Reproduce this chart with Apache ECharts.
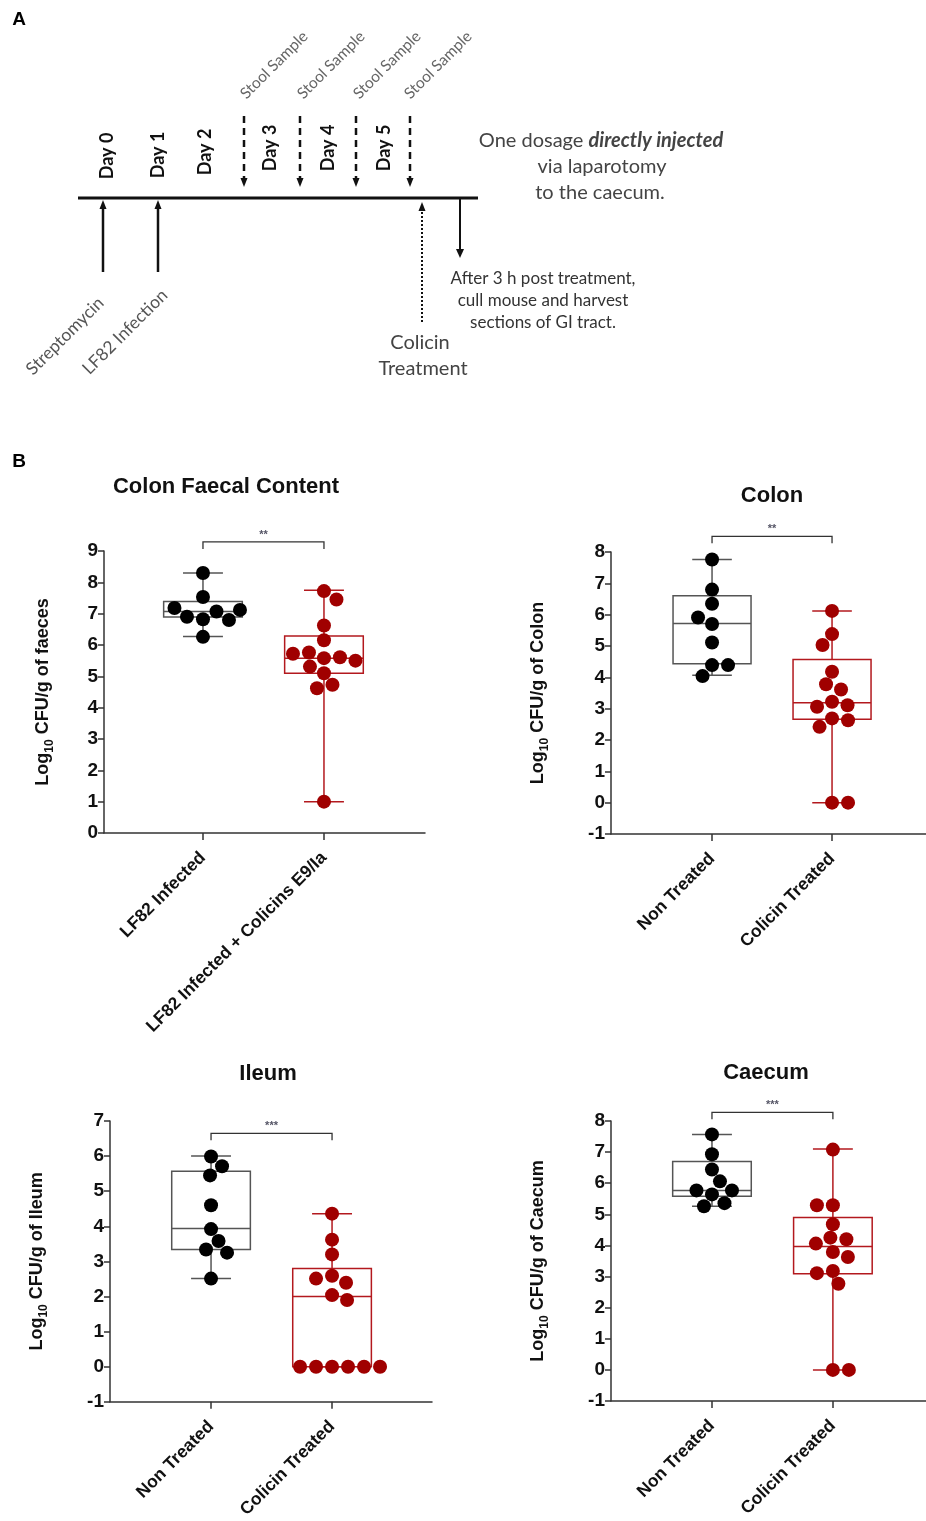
<!DOCTYPE html>
<html><head><meta charset="utf-8">
<script src="https://cdn.jsdelivr.net/npm/echarts@6/dist/echarts.min.js"></script>
<style>html,body{margin:0;padding:0;background:#fff}#c{width:926px;height:1521px}</style>
</head><body><div id="c"></div>
<script>
// ---------------- data ----------------
const panelTitles = ['Colon Faecal Content', 'Colon', 'Ileum', 'Caecum'];
const yAxisOrgans = ['faeces', 'Colon', 'Ileum', 'Caecum'];
const catsFaeces = ['LF82 Infected', 'LF82 Infected + Colicins E9/Ia'];
const catsTreat = ['Non Treated', 'Colicin Treated'];
const significance = ['**', '**', '***', '***'];
const bracketLevels = [9.29, 8.5, 6.65, 8.28];
const yMins = [0, -1, -1, -1];
const yMaxs = [9, 8, 7, 8];

// individual mice (log10 CFU/g)
const faecesInfected = [8.3, 7.53, 6.26, 6.82, 6.9, 7.07, 6.8, 7.18, 7.12];
const faecesColicin  = [7.72, 7.45, 6.62, 6.15, 5.58, 5.61, 5.76, 5.72, 5.5, 5.1, 5.31, 4.73, 4.62, 1.0];
const colonNon       = [7.76, 6.8, 6.35, 5.7, 5.91, 5.11, 4.39, 4.39, 4.04];
const colonColicin   = [6.12, 5.38, 5.03, 4.18, 3.78, 3.61, 3.22, 3.11, 3.06, 2.69, 2.63, 2.42, 0, 0];
const ileumNon       = [5.99, 5.71, 5.45, 4.6, 3.92, 3.58, 3.34, 3.25, 2.51];
const ileumColicin   = [4.36, 3.62, 3.2, 2.59, 2.51, 2.39, 2.04, 1.9, 0, 0, 0, 0, 0, 0];
const caecumNon      = [7.57, 6.93, 6.44, 6.06, 5.64, 5.77, 5.77, 5.36, 5.26];
const caecumColicin  = [7.08, 5.29, 5.29, 4.68, 4.25, 4.2, 4.06, 3.79, 3.63, 3.18, 3.11, 2.77, 0, 0];

// box statistics [min, Q1, median, Q3, max]
const boxFaecesInfected = [6.27, 6.89, 7.07, 7.39, 8.3];
const boxFaecesColicin  = [1.0, 5.1, 5.58, 6.29, 7.75];
const boxColonNon       = [4.07, 4.43, 5.72, 6.6, 7.76];
const boxColonColicin   = [0, 2.66, 3.19, 4.57, 6.12];
const boxIleumNon       = [2.51, 3.34, 3.94, 5.57, 6.0];
const boxIleumColicin   = [0, 0, 2.0, 2.8, 4.36];
const boxCaecumNon      = [5.26, 5.58, 5.77, 6.7, 7.57];
const boxCaecumColicin  = [0, 3.09, 3.97, 4.9, 7.1];

// ---------------- layout ----------------
const FONT = '"Liberation Sans", Arial, sans-serif';
const DFONT = 'Lato, "Open Sans", sans-serif';
const BLACK = '#000000', RED = '#a00000';
const BOX_BLACK = '#555555', BOX_RED = '#b3191e';
const DOT = 14, BOX_W = 0.65, CAP_W = 0.33;
const SWARM_DX = 16, SWARM_DY = 13.5;

const panels = [
  {left: 104, top: 551, width: 321, height: 282, xmin: -0.818, xmax: 1.835, cats: catsFaeces,
   groups: [faecesInfected, faecesColicin], boxes: [boxFaecesInfected, boxFaecesColicin], nameGap: 48},
  {left: 611, top: 552, width: 315, height: 282, xmin: -0.842, xmax: 1.783, cats: catsTreat,
   groups: [colonNon, colonColicin], boxes: [boxColonNon, boxColonColicin], nameGap: 60},
  {left: 110, top: 1121, width: 322, height: 281, xmin: -0.835, xmax: 1.826, cats: catsTreat,
   groups: [ileumNon, ileumColicin], boxes: [boxIleumNon, boxIleumColicin], nameGap: 60},
  {left: 611, top: 1121, width: 315, height: 280, xmin: -0.835, xmax: 1.77, cats: catsTreat,
   groups: [caecumNon, caecumColicin], boxes: [boxCaecumNon, boxCaecumColicin], nameGap: 60}
];

// beeswarm: horizontal offsets (in x data units) so dots don't overlap
function swarm(values, pxPerX, pxPerY) {
  const placed = [];
  const out = [];
  values.forEach((v, i) => {
    const y = v * pxPerY;
    let off = 0;
    const free = c => placed.every(p => ((p.x - c) / SWARM_DX) ** 2 + ((p.y - y) / SWARM_DY) ** 2 >= 1);
    for (let m = 0; m < 200; m += 0.5) {
      const cands = m === 0 ? [0] : (i % 2 ? [m, -m] : [-m, m]);
      const f = cands.find(free);
      if (f !== undefined) { off = f; break; }
    }
    placed.push({x: off, y: y});
    out.push(off / pxPerX);
  });
  return out;
}

const grid = [], xAxis = [], yAxis = [], series = [];
panels.forEach((p, k) => {
  grid.push({left: p.left, top: p.top, width: p.width, height: p.height, containLabel: false});
  xAxis.push({
    type: 'value', gridIndex: k, min: p.xmin, max: p.xmax,
    axisLine: {show: true, onZero: false, lineStyle: {color: '#333', width: 1.5}},
    axisTick: {show: true, customValues: [0, 1], length: 7, lineStyle: {color: '#333', width: 1.5}},
    axisLabel: {customValues: [0, 1], formatter: v => p.cats[Math.round(v)], rotate: 45, margin: 22,
      fontSize: 17.5, fontWeight: 'bold', fontFamily: FONT, color: '#111'},
    splitLine: {show: false}
  });
  yAxis.push({
    type: 'value', gridIndex: k, min: yMins[k], max: yMaxs[k], interval: 1,
    axisLine: {show: true, onZero: false, lineStyle: {color: '#333', width: 1.5}},
    axisTick: {show: true, length: 6, lineStyle: {color: '#333', width: 1.5}},
    axisLabel: {fontSize: 19, fontWeight: 'bold', fontFamily: FONT, color: '#111', margin: 6},
    splitLine: {show: false},
    name: '{a|Log}{s|10}{a| CFU/g of ' + yAxisOrgans[k] + '}',
    nameLocation: 'middle', nameRotate: 90, nameGap: p.nameGap,
    nameTextStyle: {rich: {
      a: {fontSize: 18, fontWeight: 'bold', fontFamily: FONT, color: '#111', verticalAlign: 'bottom', padding: [0, 0, 4, 0]},
      s: {fontSize: 12, fontWeight: 'bold', fontFamily: FONT, color: '#111', verticalAlign: 'bottom'}
    }}
  });
  const pxPerX = p.width / (p.xmax - p.xmin);
  const pxPerY = p.height / (yMaxs[k] - yMins[k]);

  // boxes
  series.push({
    type: 'custom', xAxisIndex: k, yAxisIndex: k, z: 1, clip: false,
    data: p.boxes.map((b, gi) => [gi].concat(b)),
    encode: {x: 0, y: [1, 2, 3, 4, 5]},
    renderItem: (params, api) => {
      const gi = api.value(0);
      const color = gi === 0 ? BOX_BLACK : BOX_RED;
      const xc = api.coord([gi, 0])[0];
      const yv = [1, 2, 3, 4, 5].map(i => api.coord([gi, api.value(i)])[1]);
      const bw = api.size([BOX_W, 0])[0];
      const cw = api.size([CAP_W, 0])[0];
      const st = {stroke: color, lineWidth: 1.5, fill: null};
      return {type: 'group', children: [
        {type: 'rect', shape: {x: xc - bw / 2, y: yv[3], width: bw, height: yv[1] - yv[3]}, style: st},
        {type: 'line', shape: {x1: xc - bw / 2, y1: yv[2], x2: xc + bw / 2, y2: yv[2]}, style: st},
        {type: 'line', shape: {x1: xc, y1: yv[4], x2: xc, y2: yv[3]}, style: st},
        {type: 'line', shape: {x1: xc, y1: yv[1], x2: xc, y2: yv[0]}, style: st},
        {type: 'line', shape: {x1: xc - cw / 2, y1: yv[4], x2: xc + cw / 2, y2: yv[4]}, style: st},
        {type: 'line', shape: {x1: xc - cw / 2, y1: yv[0], x2: xc + cw / 2, y2: yv[0]}, style: st}
      ]};
    }
  });
  // dots
  p.groups.forEach((vals, gi) => {
    const offs = swarm(vals, pxPerX, pxPerY);
    series.push({
      type: 'scatter', xAxisIndex: k, yAxisIndex: k, z: 3, clip: false,
      symbol: 'circle', symbolSize: DOT,
      itemStyle: {color: gi === 0 ? BLACK : RED, opacity: 1},
      data: vals.map((v, i) => [gi + offs[i], v])
    });
  });
  // significance bracket
  series.push({
    type: 'custom', xAxisIndex: k, yAxisIndex: k, z: 2, clip: false,
    data: [[bracketLevels[k]]],
    encode: {y: 0},
    renderItem: (params, api) => {
      const lvl = api.value(0);
      const a = api.coord([0, lvl]), b = api.coord([1, lvl]);
      return {type: 'group', children: [
        {type: 'polyline', shape: {points: [[a[0], a[1] + 7], a, b, [b[0], b[1] + 7]]},
         style: {stroke: '#333', lineWidth: 1.3, fill: null}},
        {type: 'text', x: (a[0] + b[0]) / 2, y: a[1] - 7,
         style: {text: significance[k], font: 'bold 11px ' + FONT, fill: '#556',
           align: 'center', verticalAlign: 'middle'}}
      ]};
    }
  });
});

// ---------------- panel A diagram & titles ----------------
function txt(x, y, text, size, opts) {
  opts = opts || {};
  return {type: 'text', x: x, y: y, rotation: opts.rot || 0, z: 10,
    style: {text: text, fontSize: size, fontFamily: opts.font || DFONT, fontWeight: opts.bold ? 'bold' : 'normal',
      fill: opts.color || '#444', align: 'center', verticalAlign: 'middle', rich: opts.rich}};
}
function line(x1, y1, x2, y2, w, dash) {
  return {type: 'line', z: 10, shape: {x1, y1, x2, y2}, style: {stroke: '#111', lineWidth: w, lineDash: dash || null}};
}
function head(x, y, dir, s) { // arrow tip at (x,y)
  s = s || 4;
  const pts = dir === 'up' ? [[x, y], [x - s, y + 9], [x + s, y + 9]] : [[x, y], [x - s, y - 9], [x + s, y - 9]];
  return {type: 'polygon', z: 10, shape: {points: pts}, style: {fill: '#111'}};
}
const g = [];
g.push(txt(19, 20, 'A', 19, {bold: true, font: FONT, color: '#000'}));
g.push(txt(19, 462, 'B', 19, {bold: true, font: FONT, color: '#000'}));
g.push(line(78, 198, 478, 198, 3));
// day labels
[['Day 0', 107, 156], ['Day 1', 158, 155], ['Day 2', 205, 152], ['Day 3', 270, 148], ['Day 4', 328, 148], ['Day 5', 384, 148]]
  .forEach(d => g.push(txt(d[1], d[2], d[0], 18, {bold: true, rot: Math.PI / 2, color: '#111'})));
// stool samples
[[244, 274], [300, 331], [356, 387], [410, 438]].forEach(s => {
  g.push(line(s[0], 116, s[0], 180, 2.5, [7, 5]));
  g.push(head(s[0], 187, 'down', 3.5));
  g.push(txt(s[1], 65, 'Stool Sample', 15.5, {rot: Math.PI / 4, color: '#666'}));
});
// streptomycin & infection
[103, 158].forEach(x => { g.push(line(x, 272, x, 206, 2.5)); g.push(head(x, 200, 'up', 3.5)); });
g.push(txt(65, 336, 'Streptomycin', 17.5, {rot: Math.PI / 4, color: '#555'}));
g.push(txt(125, 332, 'LF82 Infection', 17.5, {rot: Math.PI / 4, color: '#555'}));
// colicin treatment
g.push(line(422, 322, 422, 209, 2, [2, 2]));
g.push(head(422, 202, 'up', 3.5));
g.push(txt(420, 343, 'Colicin', 20, {color: '#444'}));
g.push(txt(423, 369, 'Treatment', 20, {color: '#444'}));
// cull
g.push(line(460, 199, 460, 250, 2));
g.push(head(460, 258, 'down', 4));
g.push(txt(543, 279, 'After 3 h post treatment,', 17, {color: '#333'}));
g.push(txt(543, 301, 'cull mouse and harvest', 17, {color: '#333'}));
g.push(txt(543, 323, 'sections of GI tract.', 17, {color: '#333'}));
// dosage note
g.push(txt(601, 141, '{n|One dosage }{b|directly injected}', 20, {rich: {
  n: {fontSize: 20, fontFamily: DFONT, color: '#444'},
  b: {fontSize: 20, fontFamily: DFONT, fontWeight: 'bold', fontStyle: 'italic', color: '#333'}}}));
g.push(txt(602, 167, 'via laparotomy', 20, {color: '#444'}));
g.push(txt(600, 193, 'to the caecum.', 20, {color: '#444'}));
// panel titles
[[226, 487], [772, 496], [268, 1074], [766, 1073]].forEach((t, k) =>
  g.push(txt(t[0], t[1], panelTitles[k], 22, {bold: true, font: FONT, color: '#111'})));

const chart = echarts.init(document.getElementById('c'), null, {renderer: 'canvas'});
chart.setOption({
  backgroundColor: '#fff',
  animation: false,
  grid: grid, xAxis: xAxis, yAxis: yAxis, series: series,
  graphic: g
});
</script></body></html>
